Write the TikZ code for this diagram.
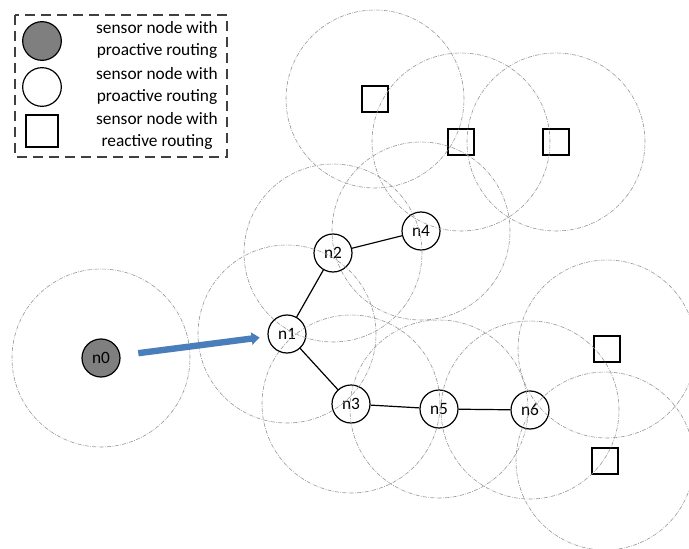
\documentclass[tikz,border=0pt]{standalone}
\usepackage{fontspec}
\setmainfont{Carlito}
\usepackage{tikz}
\usetikzlibrary{arrows.meta}
\definecolor{nodegray}{RGB}{127,127,127}
\definecolor{arrowblue}{RGB}{74,126,187}
\definecolor{rangegray}{RGB}{150,150,150}
\definecolor{framegray}{RGB}{64,64,64}

\begin{document}
\begin{tikzpicture}[x=0.75pt, y=-0.75pt,
			main node/.style={circle,draw,line width=0.9pt,minimum size=28.5pt,inner sep=0pt,font=\fontsize{13}{15}\selectfont},
			source node/.style={main node,fill=nodegray},
			reactive node/.style={rectangle,draw,line width=0.9pt,minimum size=19.5pt,inner sep=0pt},
			range circle/.style={draw=rangegray,line width=0.45pt,dash pattern=on 3pt off 1pt on 0.6pt off 1pt},
			legend text/.style={align=center,font=\fontsize{13}{16.5}\selectfont},
			legend frame/.style={draw=framegray,line width=0.8pt,dash pattern=on 7.5pt off 4.5pt},
			link/.style={line width=0.9pt},
			block arrow/.style={draw=arrowblue,line width=4.8pt,-{Triangle[length=6pt,width=9pt]},shorten <=13.5pt,shorten >=6pt}]
			
			\useasboundingbox (0,0) rectangle (689,549);
			\clip (0,0) rectangle (689,549);
			
			\node[source node] (n0) at (101,358) {n0};
			\node[main node] (n1) at (287,334) {n1};
			\node[main node] (n2) at (333,253) {n2};
			\node[main node] (n4) at (421,231) {n4};
			\node[main node] (n3) at (351,404) {n3};
			\node[main node] (n5) at (439,409) {n5};
			\node[main node] (n6) at (530,410) {n6};
			
			\node[reactive node] (r1) at (375,99) {};
			\node[reactive node] (r2) at (461,142) {};
			\node[reactive node] (r3) at (556,142) {};
			\node[reactive node] (r4) at (607,349) {};
			\node[reactive node] (r5) at (605,461) {};
			
			\foreach \n in {n0,n1,n2,n3,n4,n5,n6,r1,r2,r3,r4,r5}
			\draw[range circle] (\n.center) circle[radius=66.75pt];
			
			\path[link]
			(n1) edge (n2)
			edge (n3)
			(n2) edge (n4)
			(n3) edge (n5)
			(n5) edge (n6);
			
			\draw[block arrow] (n0) -- (n1);
			
			\draw[legend frame] (15,15) rectangle (227,157);
			\node[source node,minimum size=29pt] (key0) at (42,41) {};
			\node[legend text] (text0) at (157,40) {sensor node with\\proactive routing};
			\node[main node,minimum size=29pt] (key1) at (42,87) {};
			\node[legend text] (text1) at (157,86) {sensor node with\\proactive routing};
			\node[reactive node,minimum size=24pt] (key2) at (42,131) {};
			\node[legend text] (text2) at (157,131) {sensor node with\\reactive routing};
			\end{tikzpicture}
\end{document}
